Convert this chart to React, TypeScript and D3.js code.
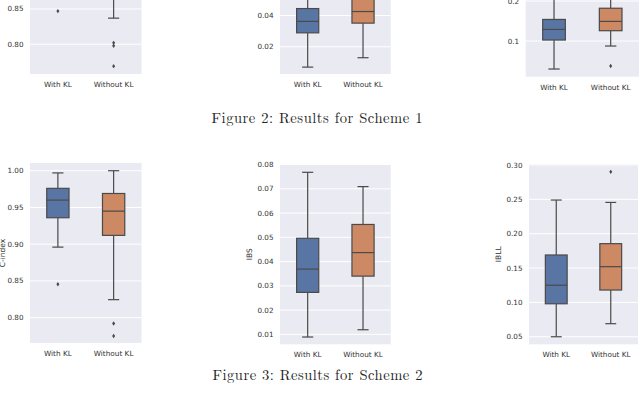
import React from 'react';
import * as d3 from 'd3';

const groups = ['With KL', 'Without KL'];

// each box: [lower whisker, q1, median, q3, upper whisker]
const s1CIndex = [[0.89, 0.93, 0.955, 0.975, 1.0], [0.837, 0.905, 0.94, 0.965, 1.0]];
const s1CIndexOut = [[0.847], [0.802, 0.798, 0.769]];
const s1Ibs = [[0.007, 0.0289, 0.0362, 0.0444, 0.075], [0.013, 0.0351, 0.0425, 0.053, 0.07]];
const s1IbsOut: number[][] = [[], []];
const s1Ibll = [[0.03, 0.1025, 0.129, 0.154, 0.245], [0.0875, 0.1258, 0.149, 0.182, 0.27]];
const s1IbllOut = [[], [0.0375]];

const s2CIndex = [[0.896, 0.936, 0.96, 0.976, 0.997], [0.8245, 0.912, 0.945, 0.969, 1.0]];
const s2CIndexOut = [[0.8455], [0.792, 0.775]];
const s2Ibs = [[0.0089, 0.0273, 0.0369, 0.0496, 0.0768], [0.0119, 0.034, 0.0437, 0.0553, 0.0709]];
const s2IbsOut: number[][] = [[], []];
const s2Ibll = [[0.05, 0.098, 0.125, 0.169, 0.249], [0.069, 0.118, 0.152, 0.1855, 0.2455]];
const s2IbllOut = [[], [0.29]];

const cIndexTicks = [0.8, 0.85, 0.9, 0.95, 1.0];
const ibsTicks = [0.01, 0.02, 0.03, 0.04, 0.05, 0.06, 0.07, 0.08];
const ibsTicksS1 = [0.02, 0.04, 0.06];
const ibllTicks = [0.05, 0.1, 0.15, 0.2, 0.25, 0.3];
const ibllTicksS1 = [0.1, 0.2, 0.3];

const captions = ['Figure 2: Results for Scheme 1', 'Figure 3: Results for Scheme 2'];

const boxColors = ['#5975a4', '#cc8963'];
const lineColor = '#4a4a4a';
const sans = 'DejaVu Sans, sans-serif';

type PanelProps = {
  left: number; right: number; top: number; bottom: number;
  domain: [number, number];
  ticks: number[];
  fmt: string;
  stats: number[][];
  outliers: number[][];
  label?: string;
  labelX?: number;
};

const Panel = ({ left, right, top, bottom, domain, ticks, fmt, stats, outliers, label, labelX }: PanelProps) => {
  const y = d3.scaleLinear().domain(domain).range([bottom, top]);
  const x = d3.scaleBand().domain(groups).range([left, right]);
  const bw = x.bandwidth() * 0.4;
  const f = d3.format(fmt);
  // the upper part of the first figure is cropped off the page
  const shown = ticks.filter(t => y(t) > -4);

  return (
    <g>
      <rect x={left} y={top} width={right - left} height={bottom - top} fill="#eaeaf2" />
      {shown.map(t => (
        <g key={t}>
          <line x1={left} x2={right} y1={y(t)} y2={y(t)} stroke="#fff" strokeWidth={1} />
          <text x={left - 6.5} y={y(t)} dy="0.35em" textAnchor="end" fontSize={7.2} fill="#333" fontFamily={sans}>{f(t)}</text>
        </g>
      ))}
      {groups.map((g, i) => {
        const [lo, q1, med, q3, hi] = stats[i];
        const cx = x(g)! + x.bandwidth() / 2;
        return (
          <g key={g}>
            <line x1={cx} x2={cx} y1={y(q3)} y2={y(hi)} stroke={lineColor} strokeWidth={1.2} />
            <line x1={cx} x2={cx} y1={y(q1)} y2={y(lo)} stroke={lineColor} strokeWidth={1.2} />
            <line x1={cx - bw / 4} x2={cx + bw / 4} y1={y(hi)} y2={y(hi)} stroke={lineColor} strokeWidth={1.2} />
            <line x1={cx - bw / 4} x2={cx + bw / 4} y1={y(lo)} y2={y(lo)} stroke={lineColor} strokeWidth={1.2} />
            <rect x={cx - bw / 2} y={y(q3)} width={bw} height={y(q1) - y(q3)} fill={boxColors[i]} stroke={lineColor} strokeWidth={1.2} />
            <line x1={cx - bw / 2} x2={cx + bw / 2} y1={y(med)} y2={y(med)} stroke={lineColor} strokeWidth={1.2} />
            {outliers[i].map((o, k) => (
              <path key={k} d={`M${cx},${y(o) - 2.2}L${cx + 1.5},${y(o)}L${cx},${y(o) + 2.2}L${cx - 1.5},${y(o)}Z`} fill={lineColor} />
            ))}
            <text x={cx} y={bottom + 13} textAnchor="middle" fontSize={7.3} fill="#333" fontFamily={sans}>{g}</text>
          </g>
        );
      })}
      {label && (
        <text transform={`translate(${labelX},${(top + bottom) / 2}) rotate(-90)`} textAnchor="middle" dy="0.35em" fontSize={7.5} fill="#333" fontFamily={sans}>{label}</text>
      )}
    </g>
  );
};

const App = () => {
  return (
    <svg width={640} height={393} style={{ position: 'absolute', left: 0, top: 0, background: '#fff' }}>
      {/* Scheme 1, cut off at the top */}
      <Panel left={30} right={141.5} top={-60} bottom={74} domain={[0.7579, 0.9477]} ticks={cIndexTicks} fmt=".2f" stats={s1CIndex} outliers={s1CIndexOut} />
      <Panel left={280} right={390.7} top={-60} bottom={74} domain={[0.0026, 0.0882]} ticks={ibsTicksS1} fmt=".2f" stats={s1Ibs} outliers={s1IbsOut} />
      <Panel left={525.7} right={639} top={-60} bottom={76.7} domain={[0.0108, 0.3526]} ticks={ibllTicksS1} fmt=".1f" stats={s1Ibll} outliers={s1IbllOut} />
      <text x={317} y={122.5} textAnchor="middle" fontSize={14.6} fontFamily="Latin Modern Roman, Liberation Serif, serif" fill="#222" textLength={211} lengthAdjust="spacing">{captions[0]}</text>

      {/* Scheme 2 */}
      <Panel left={30} right={141.5} top={163} bottom={343} domain={[0.7655, 1.0105]} ticks={cIndexTicks} fmt=".2f" stats={s2CIndex} outliers={s2CIndexOut} label="C-index" labelX={2} />
      <Panel left={280} right={390.7} top={164.3} bottom={344.3} domain={[0.0059, 0.0801]} ticks={ibsTicks} fmt=".2f" stats={s2Ibs} outliers={s2IbsOut} label="IBS" labelX={249} />
      <Panel left={529} right={638} top={164.3} bottom={344.3} domain={[0.039, 0.301]} ticks={ibllTicks} fmt=".2f" stats={s2Ibll} outliers={s2IbllOut} label="IBLL" labelX={498} />
      <text x={317.5} y={379.5} textAnchor="middle" fontSize={14.6} fontFamily="Latin Modern Roman, Liberation Serif, serif" fill="#222" textLength={210} lengthAdjust="spacing">{captions[1]}</text>
    </svg>
  );
};

export default App;
